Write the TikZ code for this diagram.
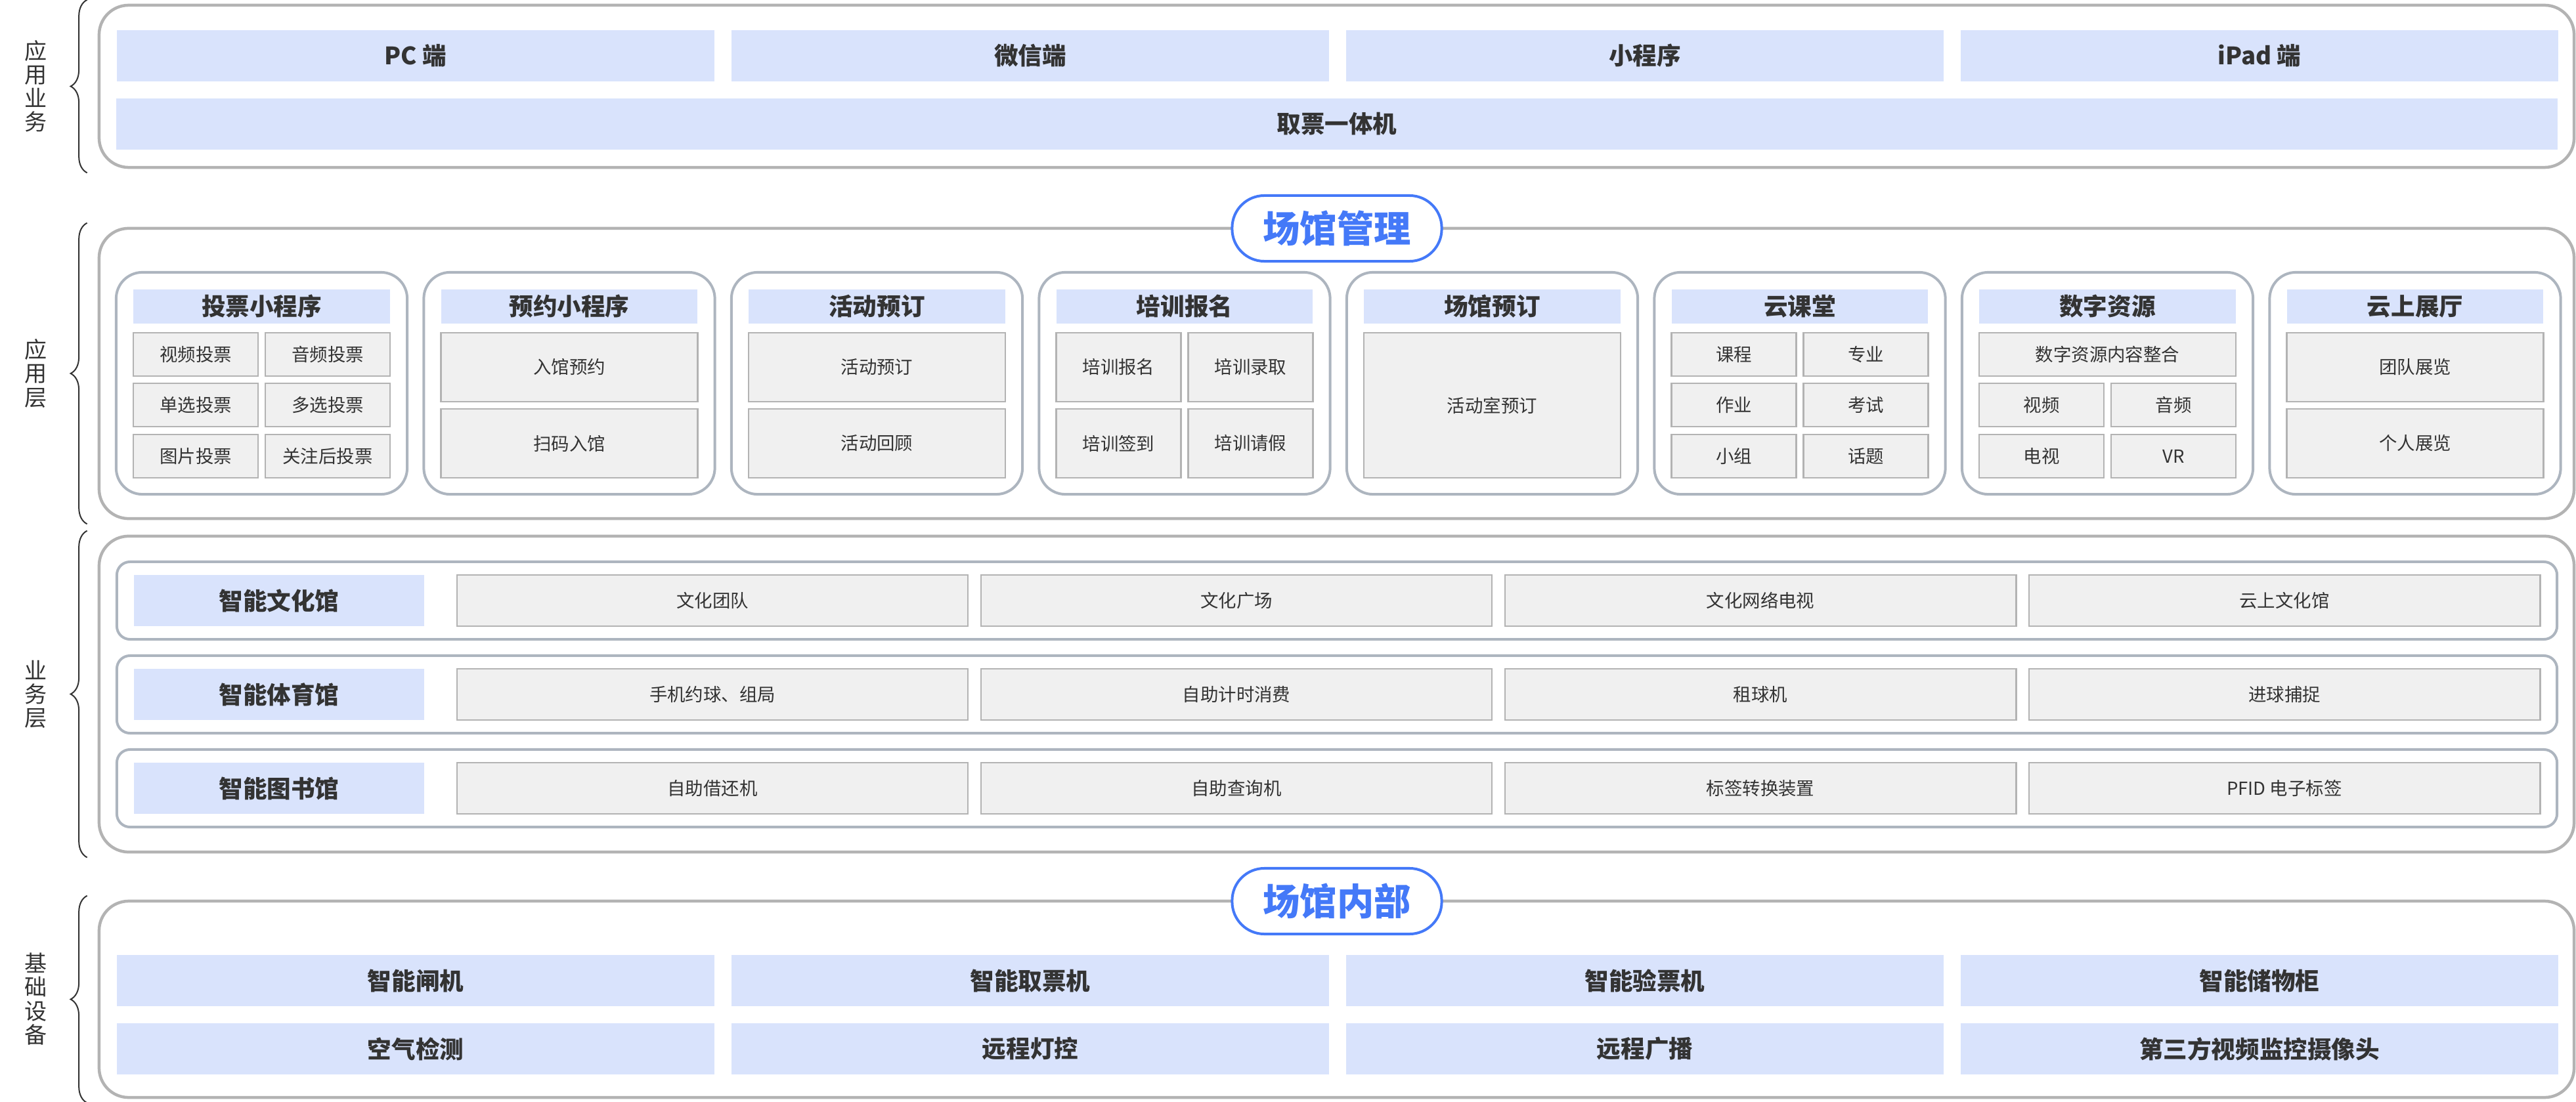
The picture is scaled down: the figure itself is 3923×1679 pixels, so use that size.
\documentclass[tikz,border=0pt]{standalone}
\usepackage{fontspec}
\setmainfont{Noto Sans CJK SC}
\usetikzlibrary{decorations.pathreplacing}
\definecolor{layergray}{HTML}{B3B3B3}
\definecolor{groupgray}{HTML}{ADB5BF}
\definecolor{headblue}{HTML}{D9E3FC}
\definecolor{cellgray}{HTML}{F0F0F0}
\definecolor{celledge}{HTML}{B3B3B3}
\definecolor{pillblue}{HTML}{4479F8}
\definecolor{inkgray}{HTML}{333333}

\begin{document}
\begin{tikzpicture}[
            x=0.01cm, y=-0.01cm,
            layerbox/.style={draw=layergray, line width=0.045cm, rounded corners=0.45cm, minimum width=37.67cm, inner sep=0pt},
            groupbox/.style={draw=groupgray, line width=0.04cm, rounded corners=0.4cm, fill=white, minimum width=4.43cm, minimum height=3.38cm, inner sep=0pt},
            bandbox/.style={draw=groupgray, line width=0.04cm, rounded corners=0.2cm, minimum width=37.14cm, minimum height=1.18cm, inner sep=0pt},
            headbox/.style={fill=headblue, text=inkgray, font=\bfseries\fontsize{10.4}{12}\selectfont, inner sep=0pt},
            endbox/.style={headbox, minimum width=9.10cm, minimum height=0.78cm},
            titlebox/.style={headbox, minimum width=3.90cm, minimum height=0.52cm},
            hallbox/.style={headbox, minimum width=4.42cm, minimum height=0.78cm},
            cellbox/.style={fill=cellgray, draw=celledge, line width=0.025cm, text=inkgray, font=\fontsize{7.8}{9}\selectfont, inner sep=0pt},
            cellS/.style={cellbox, minimum width=1.90cm, minimum height=0.66cm},
            cellQ/.style={cellbox, minimum width=1.90cm, minimum height=1.05cm},
            cellW/.style={cellbox, minimum width=3.91cm, minimum height=0.66cm},
            cellT/.style={cellbox, minimum width=3.91cm, minimum height=1.05cm},
            cellB/.style={cellbox, minimum width=3.91cm, minimum height=2.21cm},
            cellL/.style={cellbox, minimum width=7.78cm, minimum height=0.78cm},
            tagpill/.style={draw=pillblue, line width=0.04cm, fill=white, rounded corners=0.49cm, minimum width=3.19cm, minimum height=1.00cm, text=pillblue, font=\bfseries\fontsize{16}{18}\selectfont, inner sep=0pt},
            sidelabel/.style={text=inkgray, font=\fontsize{9.7}{10.3}\selectfont, align=center, inner sep=0pt},
            layerbrace/.style={draw=inkgray, line width=0.02cm, decorate, decoration={brace, amplitude=0.25cm}}
            ]
            \useasboundingbox (0,0) rectangle (3923,1679);

            % 应用业务
            \node[layerbox, minimum height=2.47cm] (appbiz) at (2035.5,131.5) {};
            \node[endbox] (pc) at (633,85) {PC 端};
            \node[endbox] (wechat) at (1569,85) {微信端};
            \node[endbox] (mini) at (2505,85) {小程序};
            \node[endbox] (ipad) at (3441,85) {iPad 端};
            \node[endbox, minimum width=37.16cm] (kiosk) at (2036,189) {取票一体机};

            % 应用层
            \node[layerbox, minimum height=4.42cm] (applayer) at (2035.5,569) {};
            \node[tagpill] (mgmt) at (2036,348) {场馆管理};

            \node[groupbox] (vote) at (398.5,584) {};
            \node[titlebox] (voteT) at (398.5,467) {投票小程序};
            \node[cellS] (vote1) at (298,540) {视频投票};
            \node[cellS] (vote2) at (499,540) {音频投票};
            \node[cellS] (vote3) at (298,617) {单选投票};
            \node[cellS] (vote4) at (499,617) {多选投票};
            \node[cellS] (vote5) at (298,695) {图片投票};
            \node[cellS] (vote6) at (499,695) {关注后投票};

            \node[groupbox] (book) at (867,584) {};
            \node[titlebox] (bookT) at (867,467) {预约小程序};
            \node[cellT] (book1) at (867,559.5) {入馆预约};
            \node[cellT] (book2) at (867,675.5) {扫码入馆};

            \node[groupbox] (event) at (1335.5,584) {};
            \node[titlebox] (eventT) at (1335.5,467) {活动预订};
            \node[cellT] (event1) at (1335.5,559.5) {活动预订};
            \node[cellT] (event2) at (1335.5,675.5) {活动回顾};

            \node[groupbox] (train) at (1804,584) {};
            \node[titlebox] (trainT) at (1804,467) {培训报名};
            \node[cellQ] (train1) at (1703.5,559.5) {培训报名};
            \node[cellQ] (train2) at (1904.5,559.5) {培训录取};
            \node[cellQ] (train3) at (1703.5,675.5) {培训签到};
            \node[cellQ] (train4) at (1904.5,675.5) {培训请假};

            \node[groupbox] (venue) at (2272.5,584) {};
            \node[titlebox] (venueT) at (2272.5,467) {场馆预订};
            \node[cellB] (venue1) at (2272.5,617.5) {活动室预订};

            \node[groupbox] (course) at (2741,584) {};
            \node[titlebox] (courseT) at (2741,467) {云课堂};
            \node[cellS] (course1) at (2640.5,540) {课程};
            \node[cellS] (course2) at (2841.5,540) {专业};
            \node[cellS] (course3) at (2640.5,617) {作业};
            \node[cellS] (course4) at (2841.5,617) {考试};
            \node[cellS] (course5) at (2640.5,695) {小组};
            \node[cellS] (course6) at (2841.5,695) {话题};

            \node[groupbox] (media) at (3209.5,584) {};
            \node[titlebox] (mediaT) at (3209.5,467) {数字资源};
            \node[cellW] (media1) at (3209.5,540) {数字资源内容整合};
            \node[cellS] (media2) at (3109,617) {视频};
            \node[cellS] (media3) at (3310,617) {音频};
            \node[cellS] (media4) at (3109,695) {电视};
            \node[cellS] (media5) at (3310,695) {VR};

            \node[groupbox] (expo) at (3678,584) {};
            \node[titlebox] (expoT) at (3678,467) {云上展厅};
            \node[cellT] (expo1) at (3678,559.5) {团队展览};
            \node[cellT] (expo2) at (3678,675.5) {个人展览};

            % 业务层
            \node[layerbox, minimum height=4.81cm] (bizlayer) at (2035.5,1057.5) {};

            \node[bandbox] (culture) at (2036,915) {};
            \node[hallbox] (cultureT) at (425,915) {智能文化馆};
            \node[cellL] (culture1) at (1085,915) {文化团队};
            \node[cellL] (culture2) at (1883,915) {文化广场};
            \node[cellL] (culture3) at (2681,915) {文化网络电视};
            \node[cellL] (culture4) at (3479,915) {云上文化馆};

            \node[bandbox] (sport) at (2036,1058) {};
            \node[hallbox] (sportT) at (425,1058) {智能体育馆};
            \node[cellL] (sport1) at (1085,1058) {手机约球、组局};
            \node[cellL] (sport2) at (1883,1058) {自助计时消费};
            \node[cellL] (sport3) at (2681,1058) {租球机};
            \node[cellL] (sport4) at (3479,1058) {进球捕捉};

            \node[bandbox] (library) at (2036,1201) {};
            \node[hallbox] (libraryT) at (425,1201) {智能图书馆};
            \node[cellL] (library1) at (1085,1201) {自助借还机};
            \node[cellL] (library2) at (1883,1201) {自助查询机};
            \node[cellL] (library3) at (2681,1201) {标签转换装置};
            \node[cellL] (library4) at (3479,1201) {PFID 电子标签};

            % 基础设备
            \node[layerbox, minimum height=2.99cm] (infra) at (2035.5,1522.5) {};
            \node[tagpill] (inside) at (2036,1373) {场馆内部};
            \node[endbox] (gate) at (633,1494) {智能闸机};
            \node[endbox] (ticket) at (1569,1494) {智能取票机};
            \node[endbox] (check) at (2505,1494) {智能验票机};
            \node[endbox] (locker) at (3441,1494) {智能储物柜};
            \node[endbox] (air) at (633,1598) {空气检测};
            \node[endbox] (light) at (1569,1598) {远程灯控};
            \node[endbox] (radio) at (2505,1598) {远程广播};
            \node[endbox] (camera) at (3441,1598) {第三方视频监控摄像头};

            % 左侧分层
            \draw[layerbrace] ([shift={(-16,6)}]appbiz.south west) -- ([shift={(-16,-6)}]appbiz.north west);
            \draw[layerbrace] ([shift={(-16,6)}]applayer.south west) -- ([shift={(-16,-6)}]applayer.north west);
            \draw[layerbrace] ([shift={(-16,6)}]bizlayer.south west) -- ([shift={(-16,-6)}]bizlayer.north west);
            \draw[layerbrace] ([shift={(-16,6)}]infra.south west) -- ([shift={(-16,-6)}]infra.north west);
            \node[sidelabel] (sideA) at (55,131.5) {应\\用\\业\\务};
            \node[sidelabel] (sideB) at (55,569) {应\\用\\层};
            \node[sidelabel] (sideC) at (55,1058) {业\\务\\层};
            \node[sidelabel] (sideD) at (55,1522) {基\\础\\设\\备};
        \end{tikzpicture}
\end{document}
